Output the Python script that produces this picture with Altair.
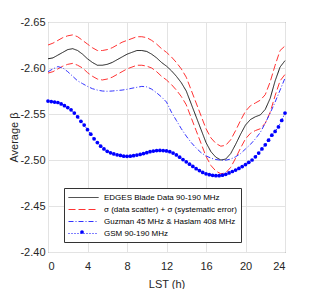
import altair as alt
import pandas as pd

# ---------------- data ----------------
hours_half = [i * 0.5 for i in range(49)]

edges = [-2.610, -2.611, -2.614, -2.617, -2.620, -2.621, -2.619, -2.615, -2.610, -2.606,
         -2.603, -2.603, -2.604, -2.606, -2.609, -2.612, -2.615, -2.617, -2.619, -2.619,
         -2.618, -2.615, -2.611, -2.606, -2.602, -2.597, -2.591, -2.584, -2.575, -2.561,
         -2.547, -2.533, -2.519, -2.509, -2.503, -2.500, -2.501, -2.507, -2.517, -2.528,
         -2.538, -2.544, -2.547, -2.549, -2.555, -2.567, -2.586, -2.601, -2.608]

sigma_upper = [-2.625, -2.627, -2.630, -2.633, -2.635, -2.636, -2.634, -2.630, -2.626, -2.622,
               -2.619, -2.619, -2.620, -2.622, -2.625, -2.628, -2.630, -2.632, -2.634, -2.634,
               -2.633, -2.630, -2.626, -2.621, -2.617, -2.612, -2.606, -2.599, -2.590, -2.576,
               -2.562, -2.548, -2.534, -2.524, -2.518, -2.515, -2.516, -2.522, -2.532, -2.543,
               -2.553, -2.559, -2.562, -2.565, -2.571, -2.585, -2.603, -2.619, -2.624]

sigma_lower = [-2.5945, -2.596, -2.599, -2.602, -2.604, -2.605, -2.603, -2.600, -2.595, -2.591,
               -2.588, -2.587, -2.588, -2.590, -2.593, -2.596, -2.599, -2.601, -2.603, -2.603,
               -2.602, -2.600, -2.596, -2.591, -2.587, -2.582, -2.576, -2.569, -2.560, -2.546,
               -2.532, -2.518, -2.504, -2.494, -2.488, -2.485, -2.486, -2.492, -2.502, -2.513,
               -2.523, -2.529, -2.532, -2.534, -2.540, -2.552, -2.570, -2.586, -2.593]

guzman = [-2.596, -2.599, -2.6015, -2.600, -2.596, -2.591, -2.586, -2.583, -2.580, -2.5775,
          -2.576, -2.575, -2.5747, -2.575, -2.5755, -2.576, -2.5768, -2.578, -2.579, -2.580,
          -2.5795, -2.577, -2.573, -2.5685, -2.563, -2.552, -2.543, -2.534, -2.526, -2.519,
          -2.513, -2.508, -2.5045, -2.502, -2.5005, -2.4998, -2.4998, -2.501, -2.5035, -2.507,
          -2.512, -2.517, -2.523, -2.530, -2.540, -2.551, -2.563, -2.576, -2.589]

gsm_hours = [round(i / 3, 4) for i in range(73)]
gsm = [-2.564, -2.5635, -2.563, -2.5625, -2.561, -2.559, -2.557, -2.5545, -2.551, -2.547,
       -2.542, -2.538, -2.533, -2.528, -2.523, -2.519, -2.515, -2.512, -2.5095, -2.5078,
       -2.5066, -2.5056, -2.505, -2.5042, -2.504, -2.5042, -2.5047, -2.5054, -2.506, -2.507,
       -2.508, -2.509, -2.5097, -2.5102, -2.5104, -2.5103, -2.5098, -2.509, -2.5075, -2.5055,
       -2.503, -2.5005, -2.498, -2.4955, -2.493, -2.4905, -2.4885, -2.4865, -2.485, -2.484,
       -2.4833, -2.483, -2.483, -2.4835, -2.4845, -2.486, -2.4875, -2.489, -2.4908, -2.4928,
       -2.495, -2.4975, -2.500, -2.5035, -2.5075, -2.512, -2.5165, -2.5215, -2.527, -2.531,
       -2.536, -2.543, -2.551]

labels = ["EDGES Blade Data 90-190 MHz",
          "σ (data scatter) + σ (systematic error)",
          "Guzman 45 MHz & Haslam 408 MHz",
          "GSM 90-190 MHz"]
colors = ["#1a1a1a", "#ff3333", "#3333ff", "#0000ff"]
dashes = [[1, 0], [7, 3], [5, 2, 1, 2], [1, 2]]
x_ticks = [0, 4, 8, 12, 16, 20, 24]
y_ticks = [-2.65, -2.60, -2.55, -2.50, -2.45, -2.40]

# ---------------- tables ----------------
rows = []
for name, hrs, vals, lab in [("edges", hours_half, edges, labels[0]),
                             ("sig_up", hours_half, sigma_upper, labels[1]),
                             ("sig_lo", hours_half, sigma_lower, labels[1]),
                             ("guzman", hours_half, guzman, labels[2]),
                             ("gsm", gsm_hours, gsm, labels[3])]:
    for h, v in zip(hrs, vals):
        rows.append({"lst": h, "beta": v, "series": lab, "line": name})
df = pd.DataFrame(rows)
gsm_df = pd.DataFrame({"lst": gsm_hours, "beta": gsm, "dot": ["GSM"] * len(gsm)})

FONT = "Liberation Sans"

x_enc = alt.X("lst:Q", scale=alt.Scale(domain=[0, 24], nice=False),
              axis=alt.Axis(values=x_ticks, title="LST (h)", labelPadding=8, titlePadding=7))
y_enc = alt.Y("beta:Q", scale=alt.Scale(domain=[-2.65, -2.40], reverse=True, nice=False, zero=False),
              axis=alt.Axis(values=y_ticks, title="Average β", labelPadding=3, titlePadding=0,
                            labelExpr="replace(format(datum.value, '.2f'), '\u2212', '-')"))

main_legend = alt.Legend(orient="none", legendX=16, legendY=166, title=None,
                         symbolType="M-1,0H5", symbolSize=100, symbolStrokeWidth=1,
                         labelFont=FONT, labelFontSize=8, labelColor="#000000", labelOffset=25,
                         padding=4, rowPadding=2, strokeColor="#333333", fillColor="#ffffff",
                         cornerRadius=0, labelLimit=300)

lines = alt.Chart(df).mark_line(strokeWidth=1).encode(
    x=x_enc, y=y_enc,
    color=alt.Color("series:N", scale=alt.Scale(domain=labels, range=colors), legend=main_legend),
    strokeDash=alt.StrokeDash("series:N", scale=alt.Scale(domain=labels, range=dashes), legend=main_legend),
    detail="line:N",
)

points = alt.Chart(gsm_df).mark_point(filled=True, size=14, opacity=1).encode(
    x=x_enc, y=y_enc,
    color=alt.value("#0000ff"),
    shape=alt.Shape("dot:N", scale=alt.Scale(range=["circle"]),
                    legend=alt.Legend(orient="none", legendX=29, legendY=205, title=None,
                                      labelExpr="''", symbolFillColor="#0000ff",
                                      symbolStrokeColor="#0000ff", symbolSize=14, padding=0)),
)

chart = alt.layer(lines, points).properties(
    width=237, height=230,
    padding={"left": 0, "top": 8, "right": 5, "bottom": 0},
).configure_view(stroke="#555555", strokeWidth=1).configure_axis(
    grid=True, gridColor="#e3e3e3", domain=False, ticks=False,
    labelFont=FONT, titleFont=FONT, labelFontSize=11, titleFontSize=11,
    titleFontWeight="normal", labelColor="#262626", titleColor="#262626",
)

chart.save("out.html", embed_options={"renderer": "svg", "actions": False})
